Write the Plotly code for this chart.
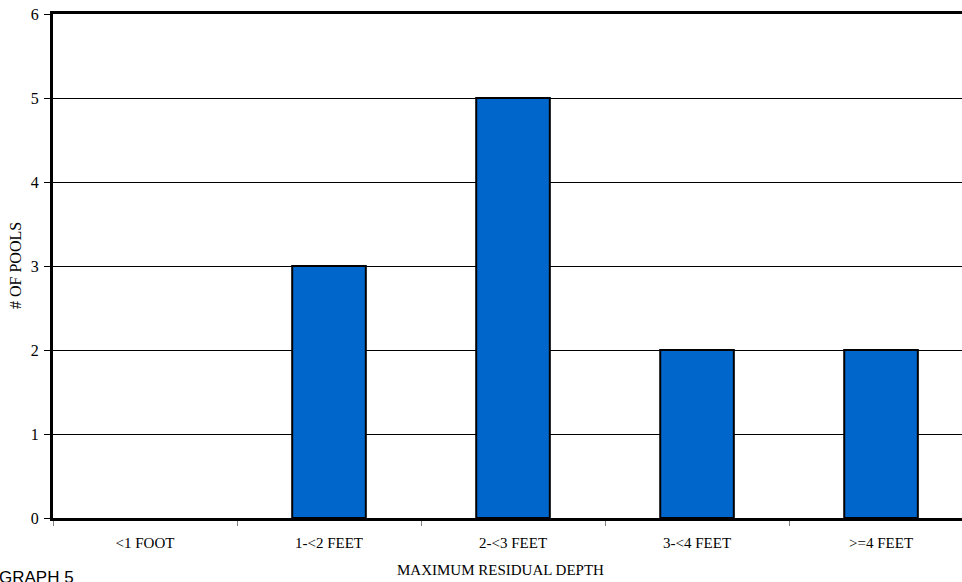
import plotly.graph_objects as go

categories = ["<1 FOOT", "1-<2 FEET", "2-<3 FEET", "3-<4 FEET", ">=4 FEET"]
pools = [0, 3, 5, 2, 2]
y_ticks = [0, 1, 2, 3, 4, 5, 6]

# plot area in pixels
L, T, B = 53, 14, 64
W, H = 962, 582
plot_w = W - L
plot_h = H - T - B


def px_x(x):
    return (x - L) / plot_w


def px_y(y):
    return (H - B - y) / plot_h


fig = go.Figure()
fig.add_trace(go.Bar(
    x=categories,
    y=pools,
    width=0.4,
    marker=dict(
        color="#0066CC",
        line=dict(color="black", width=[2 if v > 0 else 0 for v in pools]),
    ),
))

serif = "Liberation Serif"
fig.update_layout(
    width=W, height=H,
    margin=dict(l=L, r=0, t=T, b=B),
    plot_bgcolor="white", paper_bgcolor="white",
    showlegend=False,
    font=dict(family=serif, size=15, color="black"),
    xaxis=dict(
        type="category",
        range=[-0.5, 4.44],
        showline=True, linecolor="black", linewidth=3, mirror=True,
        ticks="outside", tickson="boundaries", ticklen=5, tickcolor="#808080", tickwidth=1,
        ticklabelstandoff=9,
        showgrid=False, zeroline=False,
        tickfont=dict(family=serif, size=15),
    ),
    yaxis=dict(
        range=[0, 6], tickvals=y_ticks,
        showline=True, linecolor="black", linewidth=3, mirror=False,
        ticks="outside", ticklen=6, tickcolor="black", tickwidth=1,
        ticklabelstandoff=2,
        showgrid=True, gridcolor="black", gridwidth=1,
        zeroline=False,
        tickfont=dict(family=serif, size=16),
    ),
    annotations=[
        dict(text="# OF POOLS", x=px_x(15), y=px_y(266), xref="paper", yref="paper",
             textangle=-90, showarrow=False, xanchor="center", yanchor="middle",
             font=dict(family=serif, size=16)),
        dict(text="MAXIMUM RESIDUAL DEPTH", x=px_x(500), y=px_y(570), xref="paper", yref="paper",
             showarrow=False, xanchor="center", yanchor="middle",
             font=dict(family=serif, size=15)),
        dict(text="GRAPH 5", x=px_x(-3), y=px_y(566), xref="paper", yref="paper",
             showarrow=False, xanchor="left", yanchor="top",
             font=dict(family="Liberation Sans", size=17)),
    ],
)

fig.write_html("out.html")
